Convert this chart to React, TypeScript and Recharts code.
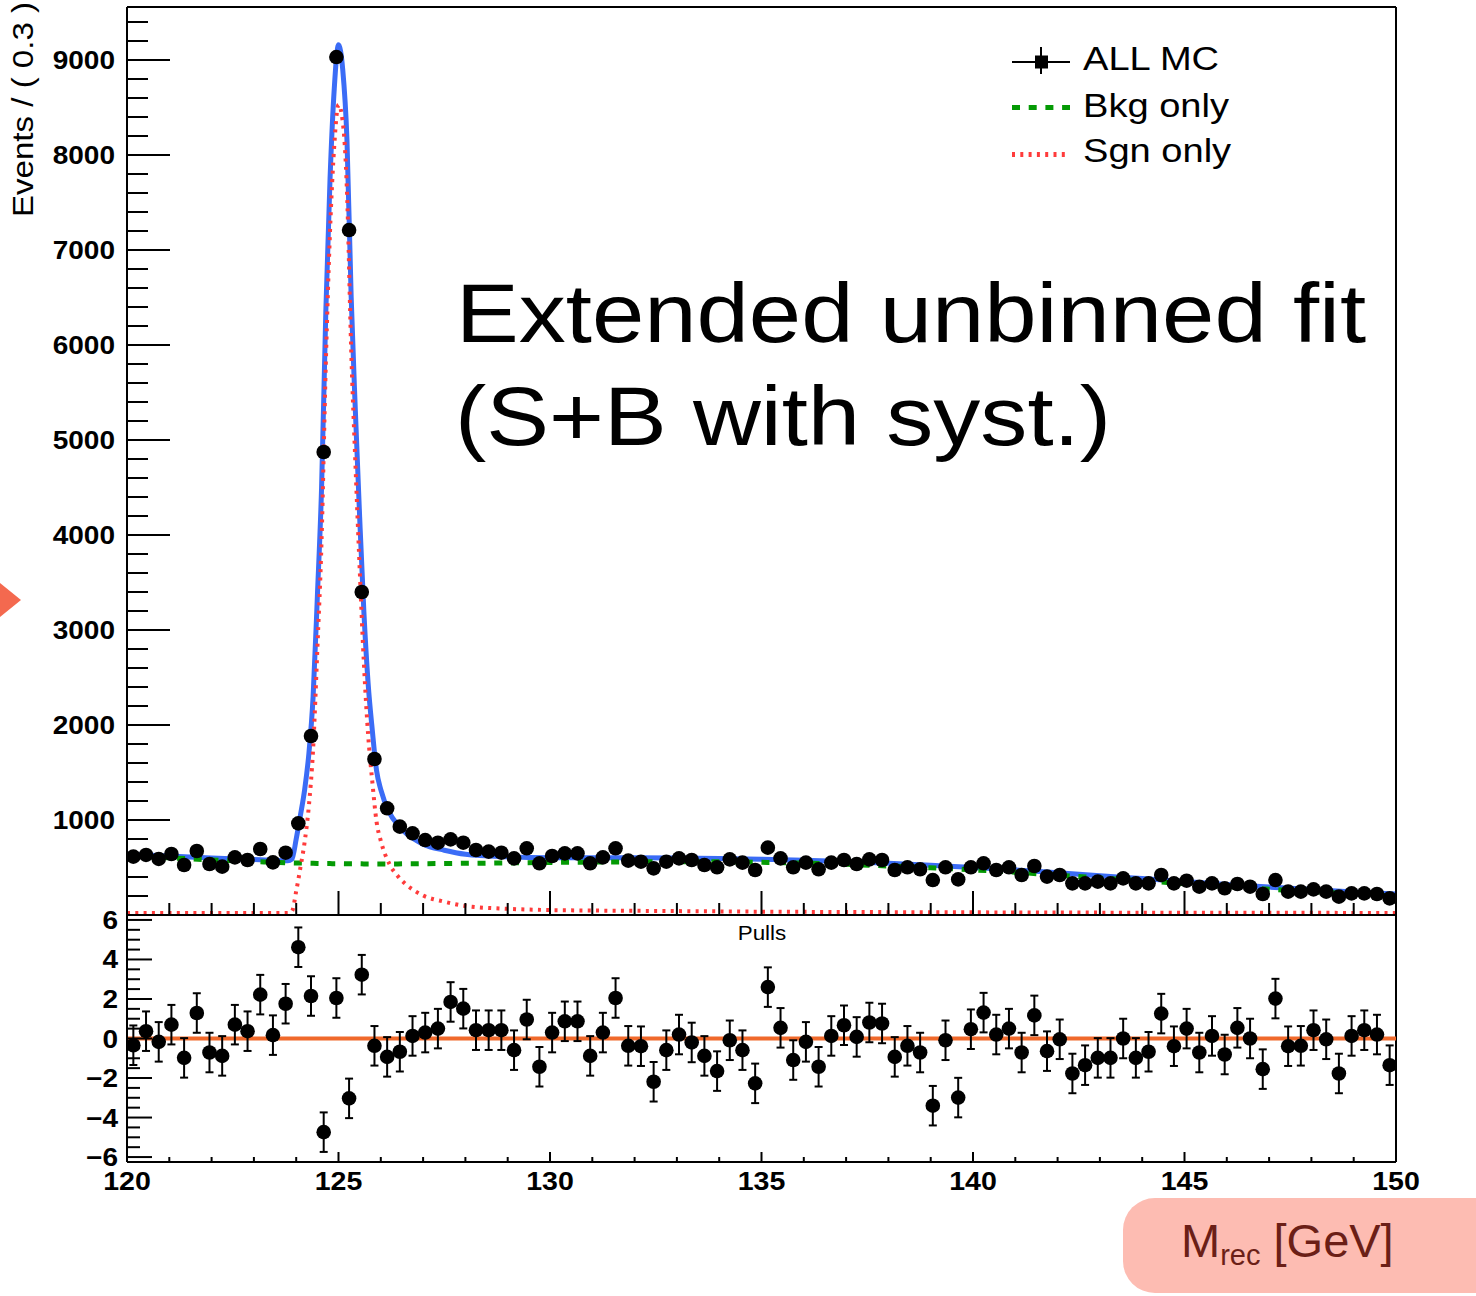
import React from "react";
import {
  ComposedChart,
  Line,
  Scatter,
  XAxis,
  YAxis,
  ErrorBar,
  ReferenceLine,
} from "recharts";

const FONT = "'Liberation Sans', Arial, Helvetica, sans-serif";
// the ROOT canvas in the slide is a bit wider than tall, stretch its texts the same way
const SX = 1.12;

// 100 bins of 0.3 GeV between 120 and 150
const binCenters = [
  120.15, 120.45, 120.75, 121.05, 121.35, 121.65, 121.95, 122.25, 122.55, 122.85,
  123.15, 123.45, 123.75, 124.05, 124.35, 124.65, 124.95, 125.25, 125.55, 125.85,
  126.15, 126.45, 126.75, 127.05, 127.35, 127.65, 127.95, 128.25, 128.55, 128.85,
  129.15, 129.45, 129.75, 130.05, 130.35, 130.65, 130.95, 131.25, 131.55, 131.85,
  132.15, 132.45, 132.75, 133.05, 133.35, 133.65, 133.95, 134.25, 134.55, 134.85,
  135.15, 135.45, 135.75, 136.05, 136.35, 136.65, 136.95, 137.25, 137.55, 137.85,
  138.15, 138.45, 138.75, 139.05, 139.35, 139.65, 139.95, 140.25, 140.55, 140.85,
  141.15, 141.45, 141.75, 142.05, 142.35, 142.65, 142.95, 143.25, 143.55, 143.85,
  144.15, 144.45, 144.75, 145.05, 145.35, 145.65, 145.95, 146.25, 146.55, 146.85,
  147.15, 147.45, 147.75, 148.05, 148.35, 148.65, 148.95, 149.25, 149.55, 149.85,
];

// ALL MC events per bin
const allMC = [
  614, 632, 590, 642, 526, 674, 537, 509, 607, 579,
  695, 554, 656, 965, 1884, 4874, 9031, 7210, 3400, 1642,
  1123, 930, 860, 789, 761, 796, 761, 684, 667, 656,
  596, 702, 544, 621, 649, 649, 544, 607, 702, 572,
  561, 491, 561, 596, 579, 526, 502, 586, 551, 474,
  709, 596, 502, 551, 481, 551, 579, 537, 586, 579,
  474, 502, 481, 368, 502, 375, 502, 544, 474, 502,
  421, 516, 404, 421, 333, 333, 351, 333, 386, 333,
  333, 421, 333, 361, 298, 333, 281, 326, 298, 221,
  368, 246, 246, 270, 246, 193, 228, 228, 221, 175,
];

// pulls per bin
const pulls = [
  -0.34, 0.37, -0.17, 0.7, -0.98, 1.29, -0.71, -0.88, 0.7, 0.37,
  2.22, 0.17, 1.76, 4.62, 2.15, -4.74, 2.05, -3.03, 3.23, -0.37,
  -0.93, -0.67, 0.13, 0.3, 0.5, 1.85, 1.51, 0.42, 0.42, 0.42,
  -0.59, 0.96, -1.43, 0.3, 0.87, 0.87, -0.88, 0.3, 2.05, -0.37,
  -0.39, -2.19, -0.59, 0.2, -0.2, -0.88, -1.65, -0.09, -0.59, -2.27,
  2.6, 0.54, -1.09, -0.17, -1.43, 0.13, 0.67, 0.08, 0.81, 0.76,
  -0.93, -0.37, -0.71, -3.4, -0.09, -2.99, 0.47, 1.31, 0.2, 0.5,
  -0.71, 1.17, -0.64, -0.04, -1.77, -1.35, -0.98, -0.98, 0.0, -0.98,
  -0.67, 1.26, -0.39, 0.5, -0.71, 0.13, -0.81, 0.54, 0.0, -1.55,
  2.02, -0.39, -0.37, 0.42, -0.04, -1.77, 0.13, 0.42, 0.2, -1.35,
];
const PULL_ERR = 1;

// fitted curves at these masses
const curveX = [
  120, 121, 122, 123, 123.5, 123.8, 123.9, 124.0, 124.1, 124.2,
  124.3, 124.4, 124.5, 124.6, 124.7, 124.8, 124.9, 125.0, 125.1, 125.2,
  125.3, 125.4, 125.5, 125.6, 125.7, 125.8, 125.9, 126.0, 126.2, 126.4,
  126.6, 126.8, 127, 127.5, 128, 129, 130, 131, 132, 133,
  134, 135, 136, 137, 138, 139, 140, 141, 142, 143,
  144, 145, 146, 147, 148, 149, 150,
];
const sPlusB = [
  640, 622, 600, 583, 575, 572, 590, 800, 1050, 1320,
  1700, 2300, 3350, 4500, 6350, 7750, 8700, 9160, 8900, 8160,
  6500, 5290, 4190, 3190, 2440, 1940, 1520, 1320, 1080, 950,
  860, 795, 745, 682, 640, 613, 603, 602, 602, 600,
  596, 588, 577, 563, 545, 524, 501, 475, 444, 413,
  383, 352, 322, 294, 268, 243, 220,
];
const bkgOnly = [
  620, 602, 580, 563, 555, 550, 549, 548, 547, 546,
  545, 544, 543, 542, 541, 541, 540, 540, 540, 539,
  539, 539, 539, 538, 538, 538, 538, 538, 538, 538,
  539, 539, 540, 542, 544, 548, 553, 557, 560, 561,
  560, 555, 546, 533, 516, 497, 475, 450, 420, 390,
  360, 330, 300, 272, 246, 222, 200,
];
const sgnOnly = [
  20, 20, 20, 20, 20, 22, 40, 250, 500, 770,
  1150, 1750, 2800, 3950, 5800, 7200, 8100, 8530, 8350, 7620,
  5950, 4750, 3650, 2650, 1900, 1400, 980, 780, 540, 410,
  320, 255, 205, 140, 95, 65, 52, 47, 44, 41,
  38, 35, 33, 32, 30, 29, 28, 27, 26, 25,
  25, 24, 24, 23, 23, 22, 22,
];

const massTicks = [
  120, 121, 122, 123, 124, 125, 126, 127, 128, 129, 130, 131, 132, 133, 134, 135,
  136, 137, 138, 139, 140, 141, 142, 143, 144, 145, 146, 147, 148, 149, 150,
];
const countTicks = [
  0, 200, 400, 600, 800, 1000, 1200, 1400, 1600, 1800, 2000, 2200, 2400, 2600, 2800,
  3000, 3200, 3400, 3600, 3800, 4000, 4200, 4400, 4600, 4800, 5000, 5200, 5400, 5600,
  5800, 6000, 6200, 6400, 6600, 6800, 7000, 7200, 7400, 7600, 7800, 8000, 8200, 8400,
  8600, 8800, 9000, 9200, 9400,
];
const pullTicks = [
  -6, -5.5, -5, -4.5, -4, -3.5, -3, -2.5, -2, -1.5, -1, -0.5, 0,
  0.5, 1, 1.5, 2, 2.5, 3, 3.5, 4, 4.5, 5, 5.5, 6,
];

const COUNT_MAX = 9558;

const mcData = binCenters.map((x, i) => ({ x, y: allMC[i] }));
const pullData = binCenters.map((x, i) => ({ x, y: pulls[i], err: PULL_ERR }));
const totalData = curveX.map((x, i) => ({ x, y: sPlusB[i] }));
const bkgData = curveX.map((x, i) => ({ x, y: bkgOnly[i] }));
const sgnData = curveX.map((x, i) => ({ x, y: sgnOnly[i] }));

function Txt(props: {
  x: number;
  y: number;
  size: number;
  anchor?: "start" | "middle" | "end";
  bold?: boolean;
  children: React.ReactNode;
}) {
  return (
    <text
      transform={`translate(${props.x},${props.y}) scale(${SX},1)`}
      textAnchor={props.anchor || "start"}
      fontSize={props.size}
      fontWeight={props.bold ? 700 : 400}
      fontFamily={FONT}
      fill="#000"
    >
      {props.children}
    </text>
  );
}

const fmtPull = (v: number) => (v < 0 ? `\u2212${-v}` : `${v}`);

// ticks point into the frame like in ROOT
const CountTick = (p: any) => {
  const v = Number(p.payload.value);
  const major = v % 1000 === 0;
  return (
    <g>
      <line x1={p.x} y1={p.y} x2={p.x + (major ? 43 : 21)} y2={p.y} stroke="#000" strokeWidth={2} />
      {major && v > 0 ? (
        <Txt x={p.x - 12} y={p.y + 9} size={25} anchor="end" bold>
          {v}
        </Txt>
      ) : null}
    </g>
  );
};

const TopMassTick = (p: any) => {
  const major = Number(p.payload.value) % 5 === 0;
  return <line x1={p.x} y1={p.y} x2={p.x} y2={p.y - (major ? 24 : 12)} stroke="#000" strokeWidth={2} />;
};

const PullTick = (p: any) => {
  const v = Number(p.payload.value);
  const major = v % 2 === 0;
  return (
    <g>
      <line x1={p.x} y1={p.y} x2={p.x + (major ? 25 : 13)} y2={p.y} stroke="#000" strokeWidth={2} />
      {major ? (
        <Txt x={p.x - 9} y={p.y + 9} size={25} anchor="end" bold>
          {fmtPull(v)}
        </Txt>
      ) : null}
    </g>
  );
};

const BottomMassTick = (p: any) => {
  const v = Number(p.payload.value);
  const major = v % 5 === 0;
  return (
    <g>
      <line x1={p.x} y1={p.y} x2={p.x} y2={p.y - (major ? 10 : 5)} stroke="#000" strokeWidth={2} />
      {major ? (
        <Txt x={p.x} y={p.y + 28} size={25.5} anchor="middle" bold>
          {v}
        </Txt>
      ) : null}
    </g>
  );
};

const dot = (p: any) => <circle cx={p.cx} cy={p.cy} r={7.3} fill="#000" />;

export default function App() {
  return (
    <div
      style={{
        position: "absolute",
        left: 0,
        top: 0,
        width: 1476,
        height: 1296,
        overflow: "hidden",
        background: "#fff",
        fontFamily: FONT,
      }}
    >
      <div style={{ position: "absolute", left: 0, top: 0 }}>
        <ComposedChart width={1476} height={920} margin={{ top: 7, right: 80, bottom: 0, left: 0 }}>
          <XAxis
            dataKey="x"
            type="number"
            domain={[120, 150]}
            ticks={massTicks}
            interval={0}
            height={5}
            tickSize={0}
            tickMargin={0}
            tickLine={false}
            tick={TopMassTick}
            axisLine={{ stroke: "#000", strokeWidth: 2 }}
          />
          <YAxis
            dataKey="y"
            type="number"
            domain={[0, COUNT_MAX]}
            ticks={countTicks}
            interval={0}
            width={127}
            tickSize={0}
            tickMargin={0}
            tickLine={false}
            tick={CountTick}
            axisLine={{ stroke: "#000", strokeWidth: 2 }}
          />
          <ReferenceLine x={150} stroke="#000" strokeWidth={2} />
          <ReferenceLine y={COUNT_MAX} stroke="#000" strokeWidth={2} />
          <Scatter data={mcData} dataKey="y" shape={dot} isAnimationActive={false} />
          <Line
            data={totalData}
            dataKey="y"
            type="monotone"
            stroke="#3b6cf6"
            strokeWidth={5}
            dot={false}
            activeDot={false}
            isAnimationActive={false}
          />
          <Line
            data={bkgData}
            dataKey="y"
            type="monotone"
            stroke="#049a04"
            strokeWidth={5}
            strokeDasharray="8 8.7"
            dot={false}
            activeDot={false}
            isAnimationActive={false}
          />
          <Line
            data={sgnData}
            dataKey="y"
            type="monotone"
            stroke="#ff3b3b"
            strokeWidth={4}
            strokeDasharray="3 5.3"
            dot={false}
            activeDot={false}
            isAnimationActive={false}
          />
        </ComposedChart>
      </div>

      <div style={{ position: "absolute", left: 0, top: 905 }}>
        <ComposedChart width={1476} height={300} margin={{ top: 10, right: 80, bottom: 0, left: 0 }}>
          <XAxis
            dataKey="x"
            type="number"
            domain={[120, 150]}
            ticks={massTicks}
            interval={0}
            height={43}
            tickSize={0}
            tickMargin={0}
            tickLine={false}
            tick={BottomMassTick}
            axisLine={{ stroke: "#000", strokeWidth: 2 }}
          />
          <YAxis
            dataKey="y"
            type="number"
            domain={[-6.25, 6.25]}
            ticks={pullTicks}
            interval={0}
            width={127}
            tickSize={0}
            tickMargin={0}
            tickLine={false}
            tick={PullTick}
            axisLine={{ stroke: "#000", strokeWidth: 2 }}
          />
          <ReferenceLine x={150} stroke="#000" strokeWidth={2} />
          <ReferenceLine y={6.25} stroke="#000" strokeWidth={2} />
          <ReferenceLine y={0} stroke="#f0692b" strokeWidth={4} />
          <Scatter data={pullData} dataKey="y" shape={dot} isAnimationActive={false}>
            <ErrorBar dataKey="err" direction="y" width={4} stroke="#000" strokeWidth={2} isAnimationActive={false} />
          </Scatter>
        </ComposedChart>
      </div>

      <svg
        width={1476}
        height={1296}
        style={{ position: "absolute", left: 0, top: 0, pointerEvents: "none" }}
      >
        {/* y title */}
        <text
          transform="translate(33,217) rotate(-90)"
          fontSize={29}
          fontFamily={FONT}
          textLength={215}
          lengthAdjust="spacingAndGlyphs"
          fill="#000"
        >
          Events / ( 0.3 )
        </text>

        {/* legend */}
        <line x1={1012} y1={62} x2={1070} y2={62} stroke="#000" strokeWidth={2} />
        <line x1={1041} y1={47} x2={1041} y2={74} stroke="#000" strokeWidth={2} />
        <rect x={1035} y={55.5} width={13} height={13} fill="#000" />
        <Txt x={1083} y={70} size={34}>ALL MC</Txt>
        <line x1={1012} y1={107.5} x2={1070} y2={107.5} stroke="#049a04" strokeWidth={5} strokeDasharray="8 8.7" />
        <Txt x={1083} y={117} size={34}>Bkg only</Txt>
        <line x1={1012} y1={154.5} x2={1066} y2={154.5} stroke="#ff3b3b" strokeWidth={5} strokeDasharray="3 5.3" />
        <Txt x={1083} y={162} size={34}>Sgn only</Txt>

        {/* annotation */}
        <Txt x={456} y={342} size={84}>Extended unbinned fit</Txt>
        <Txt x={455} y={445} size={84}>(S+B with syst.)</Txt>

        <Txt x={762} y={940} size={20} anchor="middle">Pulls</Txt>

        {/* slide decorations */}
        <polygon points="0,583 21,600 0,617" fill="#f4694f" />
        <rect x={1123} y={1198} width={400} height={95} rx={32} ry={32} fill="#fdbcb2" />
        <text x={1181} y={1257} fontSize={47} fontFamily={FONT} fill="#6b1f17">
          M
          <tspan fontSize={29} dy={8}>rec</tspan>
          <tspan fontSize={47} dy={-8}> [GeV]</tspan>
        </text>
      </svg>
    </div>
  );
}
